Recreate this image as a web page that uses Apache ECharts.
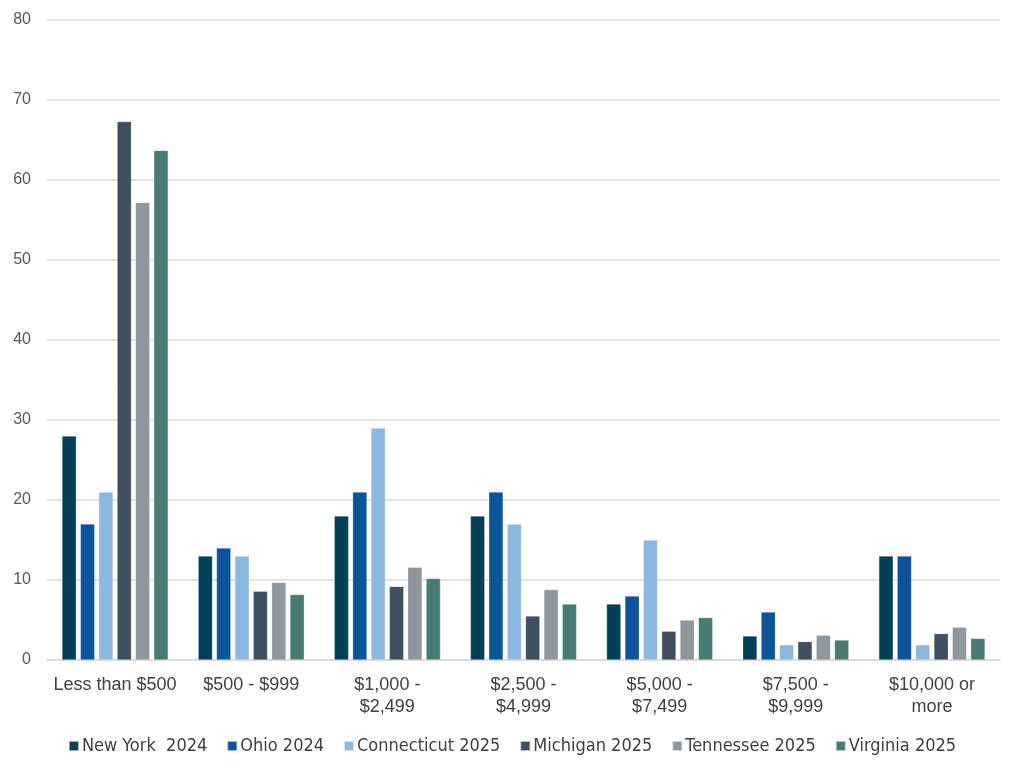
<!DOCTYPE html>
<html>
<head>
<meta charset="utf-8">
<script src="https://cdn.jsdelivr.net/npm/echarts@6/dist/echarts.min.js"></script>
<style>
  html, body { margin: 0; padding: 0; background: #fff; }
  #main { width: 1024px; height: 775px; }
</style>
</head>
<body>
<div id="main"></div>
<script>
// categories on the x axis
var categories = ['Less than $500', '$500 - $999', '$1,000 -\n$2,499', '$2,500 -\n$4,999',
                  '$5,000 -\n$7,499', '$7,500 -\n$9,999', '$10,000 or\nmore'];

// series names and values
var seriesNames = ['New York  2024', 'Ohio 2024', 'Connecticut 2025', 'Michigan 2025', 'Tennessee 2025', 'Virginia 2025'];
var newYork2024    = [28, 13, 18, 18, 7, 3, 13];
var ohio2024       = [17, 14, 21, 21, 8, 6, 13];
var connecticut2025 = [21, 13, 29, 17, 15, 1.9, 1.9];
var michigan2025   = [67.3, 8.6, 9.2, 5.5, 3.6, 2.3, 3.3];
var tennessee2025  = [57.2, 9.7, 11.6, 8.8, 5.0, 3.1, 4.1];
var virginia2025   = [63.7, 8.2, 10.2, 7.0, 5.3, 2.5, 2.7];

var colors = ['#033f57', '#0b5499', '#8db8df', '#3f4f5f', '#8e969e', '#487b74'];
var allValues = [newYork2024, ohio2024, connecticut2025, michigan2025, tennessee2025, virginia2025];

var myChart = echarts.init(document.getElementById('main'));

var series = seriesNames.map(function (name, i) {
    return {
        name: name,
        type: 'bar',
        data: allValues[i],
        barGap: '28%',
        barCategoryGap: '22%',
        itemStyle: { color: colors[i], borderColor: 'rgba(255,255,255,0.6)', borderWidth: 0.5 }
    };
});

var option = {
    animation: false,
    color: colors,
    grid: { left: 47, right: 24, top: 20, bottom: 115 },
    legend: {
        bottom: 15,
        left: 'center',
        itemWidth: 10,
        itemHeight: 10,
        itemGap: 19,
        icon: 'rect',
        textStyle: { fontFamily: 'DejaVu Sans Condensed', fontSize: 18, color: '#404040', padding: [0, 0, 0, -2] },
        data: seriesNames
    },
    xAxis: {
        type: 'category',
        data: categories,
        axisTick: { show: false },
        axisLine: { lineStyle: { color: '#d9d9d9', width: 1.5 } },
        axisLabel: {
            color: '#404040',
            fontFamily: 'Liberation Sans',
            fontSize: 18,
            lineHeight: 22,
            margin: 14,
            interval: 0
        }
    },
    yAxis: {
        type: 'value',
        min: 0,
        max: 80,
        interval: 10,
        axisLine: { show: false },
        axisTick: { show: false },
        splitLine: { lineStyle: { color: '#d9d9d9', width: 1.5 } },
        axisLabel: { color: '#595959', fontFamily: 'Liberation Sans', fontSize: 16, margin: 16 }
    },
    series: series
};

myChart.setOption(option);
</script>
</body>
</html>
